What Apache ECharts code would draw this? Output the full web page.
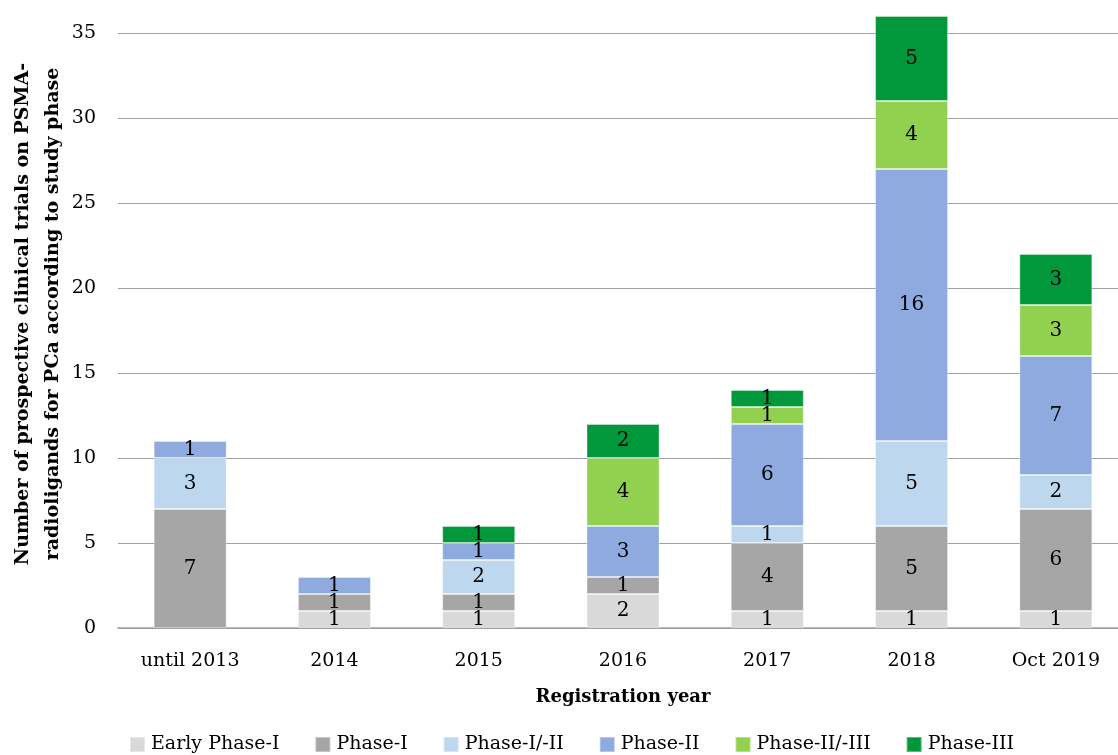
<!DOCTYPE html>
<html>
<head>
<meta charset="utf-8">
<script src="https://cdn.jsdelivr.net/npm/echarts@6/dist/echarts.min.js"></script>
<style>html,body{margin:0;padding:0;background:#fff}#c{width:1118px;height:755px}</style>
</head>
<body>
<div id="c"></div>
<script>
const categories = ['until 2013', '2014', '2015', '2016', '2017', '2018', 'Oct 2019'];
const seriesNames = ['Early Phase-I', 'Phase-I', 'Phase-I/-II', 'Phase-II', 'Phase-II/-III', 'Phase-III'];
const earlyPhaseI = [0, 1, 1, 2, 1, 1, 1];
const phaseI = [7, 1, 1, 1, 4, 5, 6];
const phaseI_II = [3, 0, 2, 0, 1, 5, 2];
const phaseII = [1, 1, 1, 3, 6, 16, 7];
const phaseII_III = [0, 0, 0, 4, 1, 4, 3];
const phaseIII = [0, 0, 1, 2, 1, 5, 3];
const yTicks = [0, 5, 10, 15, 20, 25, 30, 35];

const colors = ['#d9d9d9', '#a6a6a6', '#bdd7ee', '#8eaadf', '#92d050', '#00983a'];
const allData = [earlyPhaseI, phaseI, phaseI_II, phaseII, phaseII_III, phaseIII];
const FONT = 'DejaVu Serif';

const chart = echarts.init(document.getElementById('c'), null, {renderer: 'canvas'});
chart.setOption({
  animation: false,
  backgroundColor: '#fff',
  color: colors,
  textStyle: {fontFamily: FONT},
  grid: {left: 118, right: -10, top: 16, bottom: 127, containLabel: false, outerBoundsMode: 'none'},
  legend: {
    data: seriesNames,
    left: 129, top: 735, padding: 0,
    itemWidth: 15, itemHeight: 15, itemGap: 35,
    icon: 'rect',
    textStyle: {fontFamily: FONT, fontSize: 19, color: '#000', padding: [0,0,0,1]}
  },
  xAxis: {
    type: 'category',
    data: categories,
    axisLine: {lineStyle: {color: '#a0a0a0', width: 1.5}},
    axisTick: {show: false},
    axisLabel: {fontFamily: FONT, fontSize: 19, color: '#000', margin: 24},
    name: 'Registration year',
    nameLocation: 'middle',
    nameGap: 60,
    nameMoveOverlap: false,
    nameTextStyle: {fontFamily: FONT, fontSize: 18, fontWeight: 'bold', color: '#000'}
  },
  yAxis: {
    type: 'value',
    min: 0, max: 36, interval: 5,
    axisLine: {show: false},
    axisTick: {show: false},
    splitLine: {showMaxLine: false, lineStyle: {color: '#a0a0a0', width: 1.2}},
    axisLabel: {
      fontFamily: FONT, fontSize: 19, color: '#000', margin: 22,
      showMaxLabel: false,
      formatter: v => yTicks.includes(v) ? String(v) : ''
    },
    name: 'Number of prospective clinical trials on PSMA-\nradioligands for PCa according to study phase',
    nameLocation: 'middle',
    nameGap: 50,
    nameMoveOverlap: false,
    nameRotate: 90,
    nameTextStyle: {fontFamily: FONT, fontSize: 19, fontWeight: 'bold', color: '#000', lineHeight: 30, align: 'center', padding: [0, 0, 0, 16]}
  },
  series: seriesNames.map((n, i) => ({
    name: n,
    type: 'bar',
    stack: 'total',
    barWidth: 73,
    data: allData[i].map(v => v === 0 ? null : v),
    itemStyle: {color: colors[i], borderColor: 'rgba(255,255,255,0.35)', borderWidth: 1},
    label: {show: true, position: 'inside', fontFamily: FONT, fontSize: 20, color: '#000'}
  }))
});
</script>
</body>
</html>
